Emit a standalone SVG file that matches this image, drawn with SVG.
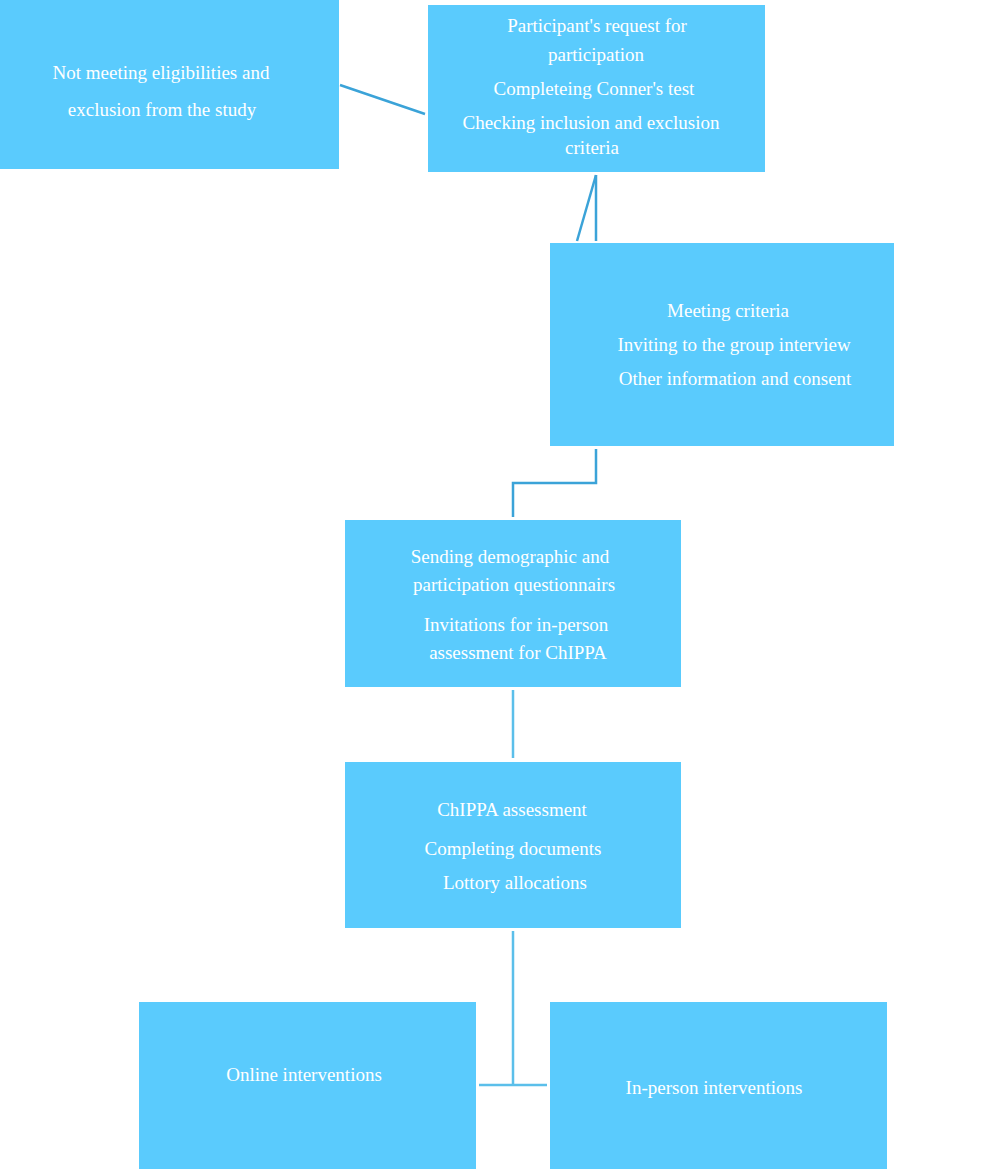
<svg xmlns="http://www.w3.org/2000/svg" width="1000" height="1172" viewBox="0 0 1000 1172">
<style>
.box{fill:#5acbfd}
.t{font-family:"Liberation Serif","Times New Roman",serif;font-size:19px;fill:#ffffff;text-anchor:middle}
.c{stroke:#3ba3d8;stroke-width:2.5;fill:none}
.c2{stroke:#5bbfea;stroke-width:2.5;fill:none}
</style>
<rect width="1000" height="1172" fill="#ffffff"/>
<g id="connectors">
<line class="c" x1="340" y1="85" x2="425" y2="114"/>
<line class="c" x1="596" y1="175" x2="577" y2="241"/>
<line class="c" x1="596" y1="175" x2="596" y2="241"/>
<polyline class="c" points="596,449 596,483 513,483 513,517"/>
<line class="c2" x1="513" y1="690" x2="513" y2="758"/>
<line class="c2" x1="513" y1="931" x2="513" y2="1085"/>
<line class="c2" x1="479" y1="1085" x2="547" y2="1085"/>
</g>
<g id="n1">
<rect class="box" x="0" y="0" width="339" height="169"/>
<text class="t" x="161" y="79">Not meeting eligibilities and</text>
<text class="t" x="162" y="116">exclusion from the study</text>
</g>
<g id="n2">
<rect class="box" x="428" y="5" width="337" height="167"/>
<text class="t" x="597" y="32">Participant's request for</text>
<text class="t" x="596" y="61">participation</text>
<text class="t" x="594" y="95">Completeing Conner's test</text>
<text class="t" x="591" y="129">Checking inclusion and exclusion</text>
<text class="t" x="592" y="154">criteria</text>
</g>
<g id="n3">
<rect class="box" x="550" y="243" width="344" height="203"/>
<text class="t" x="728" y="317">Meeting criteria</text>
<text class="t" x="734" y="351">Inviting to the group interview</text>
<text class="t" x="735" y="385">Other information and consent</text>
</g>
<g id="n4">
<rect class="box" x="345" y="520" width="336" height="167"/>
<text class="t" x="510" y="563">Sending demographic and</text>
<text class="t" x="514" y="591">participation questionnairs</text>
<text class="t" x="516" y="631">Invitations for in-person</text>
<text class="t" x="518" y="659">assessment for ChIPPA</text>
</g>
<g id="n5">
<rect class="box" x="345" y="762" width="336" height="166"/>
<text class="t" x="512" y="816">ChIPPA assessment</text>
<text class="t" x="513" y="855">Completing documents</text>
<text class="t" x="515" y="889">Lottory allocations</text>
</g>
<g id="n6">
<rect class="box" x="139" y="1002" width="337" height="167"/>
<text class="t" x="304" y="1081">Online interventions</text>
</g>
<g id="n7">
<rect class="box" x="550" y="1002" width="337" height="167"/>
<text class="t" x="714" y="1094">In-person interventions</text>
</g>
</svg>
